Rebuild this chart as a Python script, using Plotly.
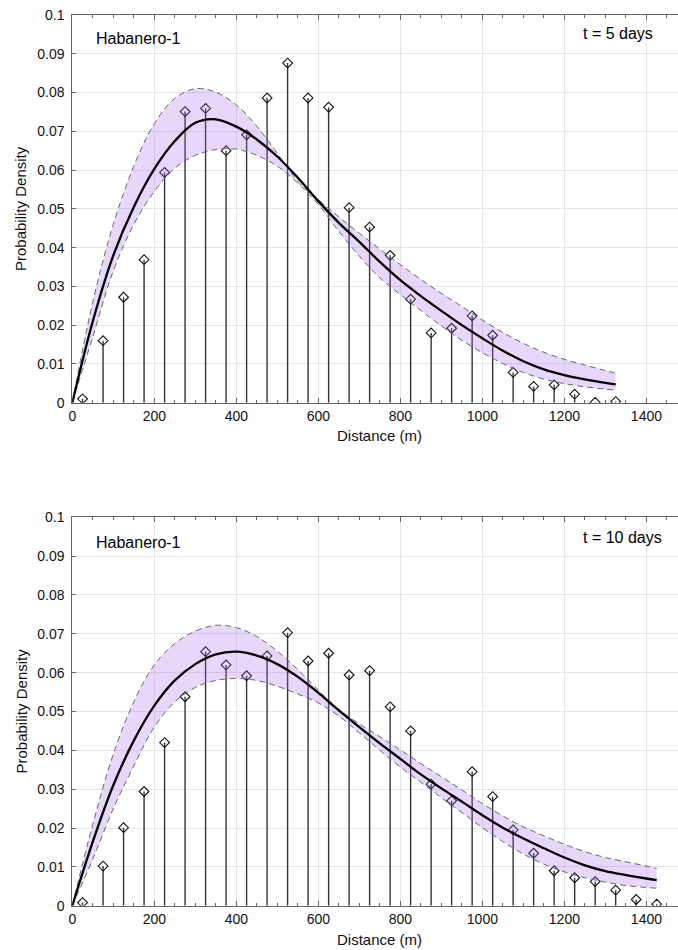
import plotly.graph_objects as go

# ---------------- data ----------------
bin_x5 = [25, 75, 125, 175, 225, 275, 325, 375, 425, 475, 525, 575, 625, 675,
          725, 775, 825, 875, 925, 975, 1025, 1075, 1125, 1175, 1225, 1275, 1325]
obs_5 = [0.0010, 0.0160, 0.0272, 0.0369, 0.0594, 0.0751, 0.0759, 0.0650, 0.0691,
         0.0786, 0.0876, 0.0786, 0.0762, 0.0503, 0.0453, 0.0380, 0.0267, 0.0180,
         0.0192, 0.0224, 0.0174, 0.0078, 0.0042, 0.0046, 0.0022, 0.0001, 0.0003]

fit_x5 = [0, 50, 100, 150, 200, 250, 300, 350, 400, 450, 500, 550, 600, 650, 700,
          750, 800, 850, 900, 950, 1000, 1050, 1100, 1150, 1200, 1250, 1300, 1325]
mean_5 = [0, 0.021, 0.038, 0.0505, 0.0603, 0.0675, 0.0722, 0.0731, 0.0712, 0.0679,
          0.0635, 0.0580, 0.0520, 0.0464, 0.0415, 0.0363, 0.0316, 0.0275, 0.0237,
          0.0200, 0.0166, 0.0134, 0.0107, 0.0086, 0.0071, 0.0060, 0.0051, 0.0047]
upper_5 = [0, 0.026, 0.046, 0.061, 0.072, 0.0785, 0.081, 0.0801, 0.0768, 0.0713,
           0.0643, 0.0571, 0.0524, 0.0479, 0.0437, 0.0396, 0.0356, 0.0318, 0.0282,
           0.0248, 0.0213, 0.0181, 0.0153, 0.0130, 0.0112, 0.0097, 0.0083, 0.0076]
lower_5 = [0, 0.017, 0.034, 0.046, 0.0545, 0.0605, 0.0638, 0.0653, 0.0654, 0.0638,
           0.061, 0.0566, 0.0511, 0.0442, 0.0378, 0.0322, 0.0279, 0.0238, 0.0198,
           0.0161, 0.0129, 0.0101, 0.0078, 0.0061, 0.0049, 0.0041, 0.0035, 0.0032]

bin_x10 = [25, 75, 125, 175, 225, 275, 325, 375, 425, 475, 525, 575, 625, 675, 725,
           775, 825, 875, 925, 975, 1025, 1075, 1125, 1175, 1225, 1275, 1325, 1375, 1425]
obs_10 = [0.0008, 0.0102, 0.0201, 0.0294, 0.0420, 0.0538, 0.0654, 0.0620, 0.0592,
          0.0643, 0.0703, 0.0630, 0.0650, 0.0594, 0.0605, 0.0512, 0.0450, 0.0313,
          0.0270, 0.0345, 0.0281, 0.0195, 0.0135, 0.0090, 0.0072, 0.0062, 0.0040,
          0.0016, 0.0004]

fit_x10 = [0, 50, 100, 150, 200, 250, 300, 350, 400, 450, 500, 550, 600, 650, 700,
           750, 800, 850, 900, 950, 1000, 1050, 1100, 1150, 1200, 1250, 1300, 1350,
           1400, 1425]
mean_10 = [0, 0.0165, 0.031, 0.0425, 0.0515, 0.058, 0.0622, 0.0647, 0.0654, 0.0644,
           0.0622, 0.0589, 0.0548, 0.0503, 0.0460, 0.0418, 0.0378, 0.0338, 0.0302,
           0.0268, 0.0233, 0.0201, 0.0173, 0.0148, 0.0124, 0.0104, 0.0089, 0.0079,
           0.0070, 0.0066]
upper_10 = [0, 0.021, 0.039, 0.0525, 0.062, 0.0675, 0.0707, 0.0722, 0.0716, 0.0693,
            0.0655, 0.0608, 0.0555, 0.0505, 0.0468, 0.0435, 0.0401, 0.0366, 0.0332,
            0.0298, 0.0263, 0.0231, 0.0203, 0.0180, 0.0158, 0.0139, 0.0124, 0.0113,
            0.0102, 0.0096]
lower_10 = [0, 0.012, 0.025, 0.036, 0.046, 0.0525, 0.0562, 0.0580, 0.0585, 0.0580,
            0.0565, 0.0545, 0.0522, 0.0488, 0.0445, 0.0400, 0.0357, 0.0318, 0.0278,
            0.0240, 0.0201, 0.0165, 0.0133, 0.0107, 0.0087, 0.0072, 0.0061, 0.0052,
            0.0047, 0.0045]

y_ticks = [0, 0.01, 0.02, 0.03, 0.04, 0.05, 0.06, 0.07, 0.08, 0.09, 0.1]
y_tick_text = ["0", "0.01", "0.02", "0.03", "0.04", "0.05", "0.06", "0.07", "0.08", "0.09", "0.1"]
x_ticks = [0, 200, 400, 600, 800, 1000, 1200, 1400]
labels_left = ["Habanero-1", "Habanero-1"]
labels_right = ["t = 5 days", "t = 10 days"]

# ---------------- figure ----------------
W, H = 678, 950
FONT = "Liberation Sans, Arial, Helvetica, sans-serif"
fig = go.Figure()

panels = [
    (bin_x5, obs_5, fit_x5, mean_5, upper_5, lower_5, "x", "y"),
    (bin_x10, obs_10, fit_x10, mean_10, upper_10, lower_10, "x2", "y2"),
]

for bx, ob, fx, mu, up, lo, xa, ya in panels:
    fig.add_trace(go.Scatter(
        x=bx, y=ob, mode="markers", xaxis=xa, yaxis=ya,
        marker=dict(symbol="diamond-open", size=7.5, color="#111111",
                    line=dict(width=1.1, color="#111111")),
        error_y=dict(type="data", symmetric=False, array=[0] * len(ob),
                     arrayminus=ob, width=0, thickness=1.4, color="#333333"),
        showlegend=False, hoverinfo="skip"))
    fig.add_trace(go.Scatter(
        x=fx, y=lo, mode="lines", xaxis=xa, yaxis=ya, line_shape="spline",
        line=dict(color="#666666", width=1, dash="6px,4px"),
        showlegend=False, hoverinfo="skip"))
    fig.add_trace(go.Scatter(
        x=fx, y=up, mode="lines", xaxis=xa, yaxis=ya, line_shape="spline",
        fill="tonexty", fillcolor="rgba(160,100,240,0.25)",
        line=dict(color="#666666", width=1, dash="6px,4px"),
        showlegend=False, hoverinfo="skip"))
    fig.add_trace(go.Scatter(
        x=fx, y=mu, mode="lines", xaxis=xa, yaxis=ya, line_shape="spline",
        line=dict(color="#000000", width=2.3),
        showlegend=False, hoverinfo="skip"))

x0 = 72.3 / W
xaxis_common = dict(
    domain=[x0, 1], range=[0, 1477], tickvals=x_ticks, ticks="inside", ticklen=5,
    tickcolor="#666666", showline=True, linecolor="#666666", linewidth=1,
    mirror="ticks", showgrid=True, gridcolor="#e5e5e5", gridwidth=1,
    zeroline=False, automargin=False,
    tickfont=dict(family=FONT, size=14, color="#111111"),
    minor=dict(dtick=50, ticks="inside", ticklen=3, tickcolor="#666666", showgrid=False),
)
yaxis_common = dict(
    range=[0, 0.1], tickvals=y_ticks, ticktext=y_tick_text, ticks="inside", ticklen=4,
    tickcolor="#666666", showline=True, linecolor="#666666", linewidth=1,
    showgrid=True, gridcolor="#e5e5e5", gridwidth=1, zeroline=False, automargin=False,
    tickfont=dict(family=FONT, size=14, color="#111111"), ticklabelstandoff=4,
)

top_dom = [(H - 402.7) / H, (H - 15) / H]
bot_dom = [(H - 905.7) / H, (H - 517.3) / H]

fig.update_layout(
    width=W, height=H, margin=dict(l=0, r=0, t=0, b=0, pad=0, autoexpand=False),
    paper_bgcolor="white", plot_bgcolor="white",
    xaxis=dict(anchor="y", **xaxis_common),
    yaxis=dict(anchor="x", domain=top_dom, **yaxis_common),
    xaxis2=dict(anchor="y2", **xaxis_common),
    yaxis2=dict(anchor="x2", domain=bot_dom, **yaxis_common),
)

ann = []
for i, (yl, ytitle, yc, ytxt) in enumerate([(38, 435, 209, 33), (542, 939, 711.5, 537)]):
    ann.append(dict(text=labels_left[i], x=94 / W, y=(H - yl) / H, xref="paper", yref="paper",
                    xanchor="left", yanchor="middle", showarrow=False,
                    font=dict(family=FONT, size=16, color="#000000")))
    ann.append(dict(text=labels_right[i], x=581 / W, y=(H - ytxt) / H, xref="paper", yref="paper",
                    xanchor="left", yanchor="middle", showarrow=False,
                    font=dict(family=FONT, size=16, color="#000000")))
    ann.append(dict(text="Distance (m)", x=379 / W, y=(H - ytitle) / H, xref="paper", yref="paper",
                    xanchor="center", yanchor="middle", showarrow=False,
                    font=dict(family=FONT, size=15, color="#111111")))
    ann.append(dict(text="Probability Density", x=21 / W, y=(H - yc) / H, xref="paper", yref="paper",
                    xanchor="center", yanchor="middle", showarrow=False, textangle=-90,
                    font=dict(family=FONT, size=15, color="#111111")))
fig.update_layout(annotations=ann)

fig.write_html("out.html", config={"displayModeBar": False},
               post_script="document.body.style.margin='0';document.body.style.padding='0';")
